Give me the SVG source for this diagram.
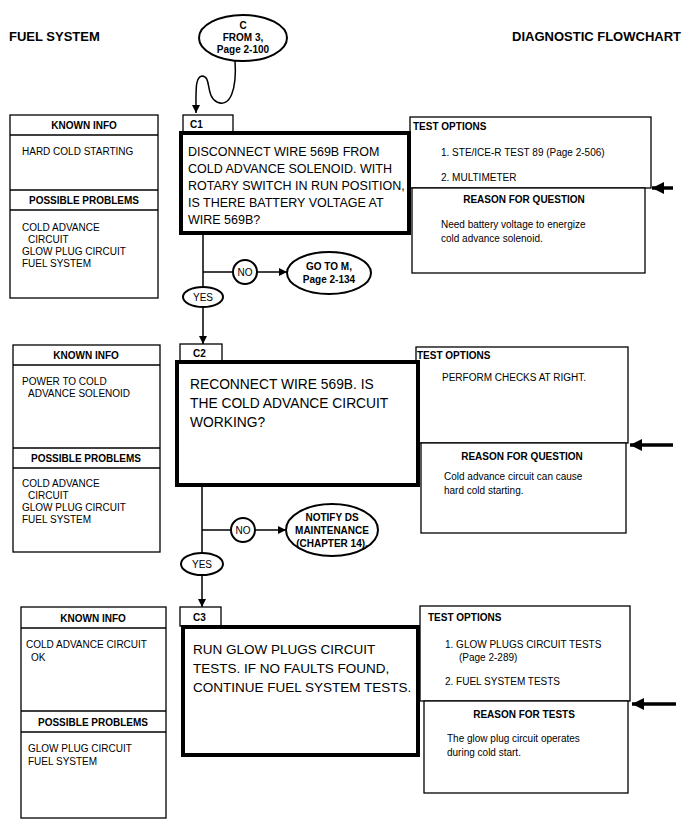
<svg xmlns="http://www.w3.org/2000/svg" width="690" height="836" viewBox="0 0 690 836">
<defs>
<marker id="ah" viewBox="0 0 10 10" refX="10" refY="5" markerWidth="11" markerHeight="8" markerUnits="userSpaceOnUse" orient="auto"><path d="M0,0 L10,5 L0,10 z" fill="#000"/></marker>
<marker id="ahb" viewBox="0 0 10 10" refX="10" refY="5" markerWidth="18" markerHeight="12" markerUnits="userSpaceOnUse" orient="auto"><path d="M0,0 L10,5 L0,10 z" fill="#000"/></marker>
<style>
text{font-family:"Liberation Sans",Arial,sans-serif;fill:#000}
.h{font-size:13px;font-weight:bold}
.b{font-size:10px;font-weight:bold}
.s{font-size:10px}
.q{font-size:13.8px}
.q1{font-size:12.5px}
.q3{font-size:13.5px}
.thin{fill:#fff;stroke:#000;stroke-width:1.3}
.thick{fill:#fff;stroke:#000;stroke-width:4}
.ln{fill:none;stroke:#000;stroke-width:1.5}
.el{fill:#fff;stroke:#000;stroke-width:2}
.c{text-anchor:middle}
</style>
</defs>
<rect width="690" height="836" fill="#fff"/>
<text class="h" x="9" y="41">FUEL SYSTEM</text>
<text class="h" x="681" y="41" text-anchor="end">DIAGNOSTIC FLOWCHART</text>

<g id="connectors">
<path class="ln" d="M235,60 C237,90 230,108 217,102 C205,96 212,76 202,76 C195,77 196,90 196,113" marker-end="url(#ah)"/>
<line class="ln" x1="203" y1="233" x2="203" y2="344" marker-end="url(#ah)"/>
<line class="ln" x1="203" y1="272" x2="233" y2="272"/>
<line class="ln" x1="257" y1="272" x2="287" y2="272" marker-end="url(#ah)"/>
<line class="ln" x1="202" y1="485" x2="202" y2="607" marker-end="url(#ah)"/>
<line class="ln" x1="202" y1="530" x2="231" y2="530"/>
<line class="ln" x1="255" y1="530" x2="286" y2="530" marker-end="url(#ah)"/>
<line x1="673" y1="188" x2="652" y2="188" stroke="#000" stroke-width="3.5" marker-end="url(#ahb)"/>
<line x1="673" y1="445" x2="630" y2="445" stroke="#000" stroke-width="3.5" marker-end="url(#ahb)"/>
<line x1="676" y1="704" x2="632" y2="704" stroke="#000" stroke-width="3.5" marker-end="url(#ahb)"/>
</g>

<g id="start">
<ellipse class="el" cx="243" cy="38" rx="44" ry="23"/>
<text class="b c" x="243" y="29">C</text>
<text class="b c" x="243" y="41">FROM 3,</text>
<text class="b c" x="243" y="53">Page 2-100</text>
</g>

<!-- C1 -->
<g id="c1-known">
<rect class="thin" x="10" y="115" width="148" height="183"/>
<line class="ln" x1="10" y1="135" x2="158" y2="135"/>
<line class="ln" x1="10" y1="190" x2="158" y2="190"/>
<line class="ln" x1="10" y1="210" x2="158" y2="210"/>
<text class="b c" x="84" y="129">KNOWN INFO</text>
<text class="s" x="22" y="155">HARD COLD STARTING</text>
<text class="b c" x="84" y="204">POSSIBLE PROBLEMS</text>
<text class="s" x="22" y="231">COLD ADVANCE</text>
<text class="s" x="28" y="243">CIRCUIT</text>
<text class="s" x="22" y="255">GLOW PLUG CIRCUIT</text>
<text class="s" x="22" y="267">FUEL SYSTEM</text>
</g>
<g id="c1-options">
<rect class="thin" x="410" y="117" width="241" height="71"/>
<rect class="thin" x="412" y="188" width="233" height="85"/>
<text class="b" x="413" y="130">TEST OPTIONS</text>
<text class="s" x="441" y="156">1. STE/ICE-R TEST 89 (Page 2-506)</text>
<text class="s" x="441" y="181">2. MULTIMETER</text>
<text class="b c" x="524" y="203">REASON FOR QUESTION</text>
<text class="s" x="441" y="228">Need battery voltage to energize</text>
<text class="s" x="441" y="242">cold advance solenoid.</text>
</g>
<g id="c1">
<rect class="thin" x="183" y="115" width="50" height="17"/>
<text class="b" x="190" y="128">C1</text>
<rect class="thick" x="181" y="133" width="228" height="100"/>
<text class="q1" x="188" y="156">DISCONNECT WIRE 569B FROM</text>
<text class="q1" x="188" y="173">COLD ADVANCE SOLENOID. WITH</text>
<text class="q1" x="188" y="190">ROTARY SWITCH IN RUN POSITION,</text>
<text class="q1" x="188" y="207">IS THERE BATTERY VOLTAGE AT</text>
<text class="q1" x="188" y="224">WIRE 569B?</text>
</g>
<g id="c1-no">
<circle class="el" cx="245" cy="272" r="12" stroke-width="1.5"/>
<text class="s c" x="245" y="276">NO</text>
</g>
<g id="goto-m">
<ellipse class="el" cx="329" cy="273" rx="42" ry="21"/>
<text class="b c" x="329" y="270">GO TO M,</text>
<text class="b c" x="329" y="283">Page 2-134</text>
</g>
<g id="c1-yes">
<ellipse class="el" cx="203" cy="297" rx="20" ry="10" stroke-width="1.5"/>
<text class="s c" x="203" y="301">YES</text>
</g>

<!-- C2 -->
<g id="c2-known">
<rect class="thin" x="13" y="345" width="147" height="207"/>
<line class="ln" x1="13" y1="365" x2="160" y2="365"/>
<line class="ln" x1="13" y1="448" x2="160" y2="448"/>
<line class="ln" x1="13" y1="468" x2="160" y2="468"/>
<text class="b c" x="86" y="359">KNOWN INFO</text>
<text class="s" x="22" y="385">POWER TO COLD</text>
<text class="s" x="28" y="397">ADVANCE SOLENOID</text>
<text class="b c" x="86" y="462">POSSIBLE PROBLEMS</text>
<text class="s" x="22" y="487">COLD ADVANCE</text>
<text class="s" x="28" y="499">CIRCUIT</text>
<text class="s" x="22" y="511">GLOW PLUG CIRCUIT</text>
<text class="s" x="22" y="523">FUEL SYSTEM</text>
</g>
<g id="c2-options">
<rect class="thin" x="416" y="347" width="212" height="96"/>
<rect class="thin" x="421" y="443" width="205" height="90"/>
<text class="b" x="417" y="359">TEST OPTIONS</text>
<text class="s" x="442" y="381">PERFORM CHECKS AT RIGHT.</text>
<text class="b c" x="522" y="460">REASON FOR QUESTION</text>
<text class="s" x="444" y="480">Cold advance circuit can cause</text>
<text class="s" x="444" y="494">hard cold starting.</text>
</g>
<g id="c2">
<rect class="thin" x="180" y="344" width="42" height="18"/>
<text class="b" x="193" y="357">C2</text>
<rect class="thick" x="177" y="362" width="241" height="123"/>
<text class="q" x="190" y="389">RECONNECT WIRE 569B.  IS</text>
<text class="q" x="190" y="408">THE COLD ADVANCE CIRCUIT</text>
<text class="q" x="190" y="427">WORKING?</text>
</g>
<g id="c2-no">
<circle class="el" cx="243" cy="530" r="12" stroke-width="1.5"/>
<text class="s c" x="243" y="534">NO</text>
</g>
<g id="notify">
<ellipse class="el" cx="332" cy="530" rx="46" ry="26"/>
<text class="b c" x="332" y="521" font-size="9.5">NOTIFY DS</text>
<text class="b c" x="332" y="534" font-size="9.5">MAINTENANCE</text>
<text class="b c" x="332" y="547" font-size="9.5">(CHAPTER 14).</text>
</g>
<g id="c2-yes">
<ellipse class="el" cx="202" cy="564" rx="21" ry="11" stroke-width="1.5"/>
<text class="s c" x="202" y="568">YES</text>
</g>

<!-- C3 -->
<g id="c3-known">
<rect class="thin" x="21" y="607" width="145" height="211"/>
<line class="ln" x1="21" y1="628" x2="166" y2="628"/>
<line class="ln" x1="21" y1="711" x2="166" y2="711"/>
<line class="ln" x1="21" y1="732" x2="166" y2="732"/>
<text class="b c" x="93" y="622">KNOWN INFO</text>
<text class="s" x="26" y="648">COLD ADVANCE CIRCUIT</text>
<text class="s" x="31" y="661">OK</text>
<text class="b c" x="93" y="726">POSSIBLE PROBLEMS</text>
<text class="s" x="28" y="752">GLOW PLUG CIRCUIT</text>
<text class="s" x="28" y="765">FUEL SYSTEM</text>
</g>
<g id="c3-options">
<rect class="thin" x="420" y="606" width="210" height="95"/>
<rect class="thin" x="424" y="701" width="204" height="92"/>
<text class="b" x="428" y="621">TEST OPTIONS</text>
<text class="s" x="445" y="648">1. GLOW PLUGS CIRCUIT TESTS</text>
<text class="s" x="459" y="661">(Page 2-289)</text>
<text class="s" x="445" y="685">2. FUEL SYSTEM TESTS</text>
<text class="b c" x="524" y="718">REASON FOR TESTS</text>
<text class="s" x="447" y="742">The glow plug circuit operates</text>
<text class="s" x="447" y="756">during cold start.</text>
</g>
<g id="c3">
<rect class="thin" x="180" y="607" width="41" height="19"/>
<text class="b" x="193" y="621">C3</text>
<rect class="thick" x="183" y="627" width="235" height="128"/>
<text class="q3" x="193" y="654">RUN GLOW PLUGS CIRCUIT</text>
<text class="q3" x="193" y="673">TESTS. IF NO FAULTS FOUND,</text>
<text class="q3" x="193" y="692">CONTINUE FUEL SYSTEM TESTS.</text>
</g>
</svg>
